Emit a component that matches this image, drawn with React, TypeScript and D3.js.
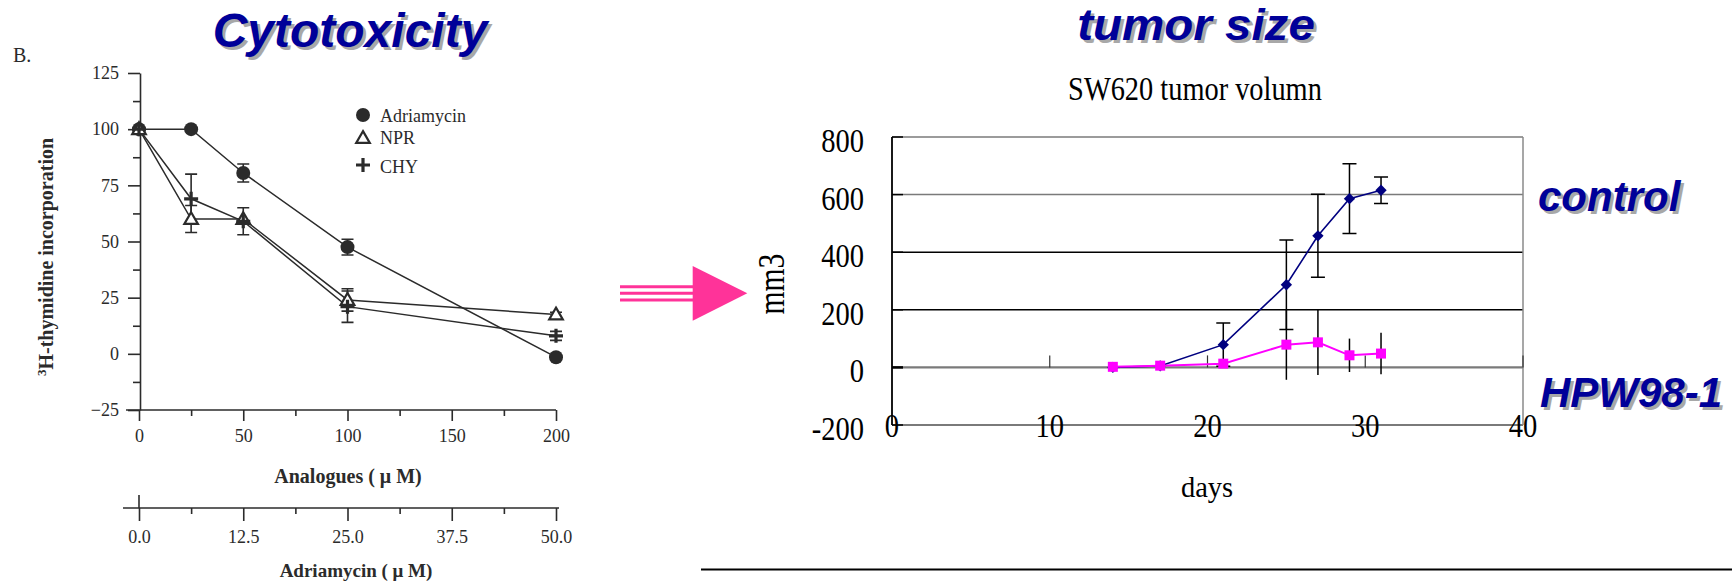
import React, { useEffect, useRef } from "react";
import * as d3 from "d3";

// left panel (scanned cytotoxicity figure)
const analogueConc = [0, 25, 50, 100, 200];
const adriamycinVals = [100, 100, 80.5, 47.5, -1.5];
const adriamycinErr = [0, 0, 4, 3.5, 1];
const nprVals = [100, 60, 60, 24, 17.5];
const nprErr = [0, 6, 0, 5, 1];
const chyVals = [100, 69, 59, 21, 8];
const chyErr = [0, 11, 6, 7, 2];
const leftYTicks = [-25, 0, 25, 50, 75, 100, 125];
const leftYMinor = [-12.5, 12.5, 37.5, 62.5, 87.5, 112.5];
const leftXTicks = [0, 50, 100, 150, 200];
const leftXMinor = [25, 75, 125, 175];
const adriaTicks = [0, 12.5, 25, 37.5, 50];
const adriaMinor = [6.25, 18.75, 31.25, 43.75];
const legendNames = ["Adriamycin", "NPR", "CHY"];

// right panel (SW620 tumor volume)
const days = [14, 17, 21, 25, 27, 29, 31];
const controlVals = [0, 5, 79, 287, 457, 586, 615];
const controlErr = [0, 0, 75, 155, 144, 121, 46];
const hpwVals = [2, 6, 13, 79, 87, 42, 48];
const hpwErr = [0, 0, 5, 122, 113, 58, 72];
const rightYTicks = [-200, 0, 200, 400, 600, 800];
const rightXTicks = [0, 10, 20, 30, 40];

const SERIF = "'Liberation Serif', 'Times New Roman', serif";
const SANS = "'Liberation Sans', Arial, sans-serif";
const NAVY = "#000099";

export default function App() {
  const svgRef = useRef(null);

  useEffect(() => {
    const svg = d3.select(svgRef.current);
    svg.selectAll("*").remove();

    // big slide titles with shadow
    const shadowText = (txt, x, y, size, anchor, sx = 1) => {
      const g = svg.append("g")
        .attr("transform", `translate(${x},${y}) scale(${sx},1)`)
        .attr("font-family", SANS)
        .attr("font-weight", "bold")
        .attr("font-style", "italic")
        .attr("font-size", size)
        .attr("text-anchor", anchor);
      g.append("text").attr("x", 3).attr("y", 3).attr("fill", "#a8a8a8").text(txt);
      g.append("text").attr("x", 0).attr("y", 0).attr("fill", NAVY).text(txt);
    };
    shadowText("Cytotoxicity", 350, 47, 48, "middle");
    shadowText("tumor size", 1196, 40, 44, "middle", 1.08);
    shadowText("control", 1538, 211, 42, "start");
    shadowText("HPW98-1", 1540, 407, 42, "start");

    // ---------------- left chart ----------------
    const ink = "#2b2b2b";
    const xL = d3.scaleLinear().domain([0, 200]).range([139, 556]);
    const yL = d3.scaleLinear().domain([-25, 125]).range([410, 73]);
    const xA = d3.scaleLinear().domain([0, 50]).range([139, 556]);
    const left = svg.append("g");

    const styleAxis = (g) => {
      g.attr("font-family", SERIF).attr("font-size", 18);
      g.selectAll("line").attr("stroke", ink).attr("stroke-width", 1.6);
      g.selectAll("path").attr("stroke", ink).attr("stroke-width", 1.6);
      g.selectAll("text").attr("fill", ink);
    };

    left.append("g").attr("transform", "translate(140,0)")
      .call(d3.axisLeft(yL).tickValues(leftYTicks).tickSize(12).tickSizeOuter(0).tickPadding(9))
      .call(styleAxis);
    left.append("g").attr("transform", "translate(140,0)")
      .call(d3.axisLeft(yL).tickValues(leftYMinor).tickSize(7).tickFormat(() => ""))
      .call((g) => g.select(".domain").remove())
      .call(styleAxis);

    left.append("line").attr("x1", 126).attr("x2", 556).attr("y1", yL(-25)).attr("y2", yL(-25))
      .attr("stroke", ink).attr("stroke-width", 1.6);
    left.append("g").attr("transform", `translate(0,${yL(-25)})`)
      .call(d3.axisBottom(xL).tickValues(leftXTicks).tickSize(11).tickSizeOuter(0).tickPadding(8))
      .call((g) => g.select(".domain").remove())
      .call(styleAxis);
    left.append("g").attr("transform", `translate(0,${yL(-25)})`)
      .call(d3.axisBottom(xL).tickValues(leftXMinor).tickSize(6).tickFormat(() => ""))
      .call((g) => g.select(".domain").remove())
      .call(styleAxis);

    // second (adriamycin) axis
    const a2y = 508;
    left.append("line").attr("x1", 123).attr("x2", 559).attr("y1", a2y).attr("y2", a2y)
      .attr("stroke", ink).attr("stroke-width", 1.6);
    left.append("line").attr("x1", xA(0)).attr("x2", xA(0)).attr("y1", a2y - 13).attr("y2", a2y)
      .attr("stroke", ink).attr("stroke-width", 1.6);
    left.append("g").attr("transform", `translate(0,${a2y})`)
      .call(d3.axisBottom(xA).tickValues(adriaTicks).tickSize(13).tickSizeOuter(0).tickPadding(9)
        .tickFormat(d3.format(".1f")))
      .call((g) => g.select(".domain").remove())
      .call(styleAxis);
    left.append("g").attr("transform", `translate(0,${a2y})`)
      .call(d3.axisBottom(xA).tickValues(adriaMinor).tickSize(6).tickFormat(() => ""))
      .call((g) => g.select(".domain").remove())
      .call(styleAxis);

    left.append("text").attr("x", 348).attr("y", 483).attr("text-anchor", "middle")
      .attr("font-family", SERIF).attr("font-weight", "bold").attr("font-size", 20).attr("fill", ink)
      .text("Analogues ( μ M)");
    left.append("text").attr("x", 356).attr("y", 577).attr("text-anchor", "middle")
      .attr("font-family", SERIF).attr("font-weight", "bold").attr("font-size", 19).attr("fill", ink)
      .text("Adriamycin ( μ M)");
    const yt = left.append("text").attr("transform", "translate(53,257) rotate(-90)")
      .attr("text-anchor", "middle").attr("font-family", SERIF).attr("font-weight", "bold")
      .attr("font-size", 20).attr("fill", ink);
    yt.append("tspan").attr("font-size", 13).attr("dy", -7).text("3");
    yt.append("tspan").attr("dy", 7).text("H-thymidine incorporation");
    left.append("text").attr("x", 13).attr("y", 62).attr("font-family", SERIF)
      .attr("font-size", 20).attr("fill", ink).text("B.");

    const series = [
      { vals: adriamycinVals, err: adriamycinErr, mark: "circle" },
      { vals: nprVals, err: nprErr, mark: "triangle" },
      { vals: chyVals, err: chyErr, mark: "plus" },
    ];
    const lineL = d3.line().x((d) => xL(d[0])).y((d) => yL(d[1]));

    const drawMark = (g, mark, cx, cy) => {
      if (mark === "circle") {
        g.append("circle").attr("cx", cx).attr("cy", cy).attr("r", 7).attr("fill", ink);
      } else if (mark === "triangle") {
        g.append("path").attr("transform", `translate(${cx},${cy + 1})`)
          .attr("d", d3.symbol(d3.symbolTriangle, 80)())
          .attr("fill", "#fff").attr("stroke", ink).attr("stroke-width", 2.2);
      } else {
        g.append("path").attr("d", `M${cx - 7},${cy}H${cx + 7}M${cx},${cy - 7}V${cy + 7}`)
          .attr("stroke", ink).attr("stroke-width", 3.2);
      }
    };

    series.forEach((s) => {
      left.append("path").datum(analogueConc.map((c, i) => [c, s.vals[i]]))
        .attr("d", lineL).attr("fill", "none").attr("stroke", ink).attr("stroke-width", 1.5);
      analogueConc.forEach((c, i) => {
        const e = s.err[i];
        if (e > 0) {
          const x = xL(c);
          left.append("path")
            .attr("d", `M${x},${yL(s.vals[i] + e)}V${yL(s.vals[i] - e)}M${x - 6},${yL(s.vals[i] + e)}H${x + 6}M${x - 6},${yL(s.vals[i] - e)}H${x + 6}`)
            .attr("stroke", ink).attr("stroke-width", 1.6).attr("fill", "none");
        }
      });
    });
    series.forEach((s) => {
      analogueConc.forEach((c, i) => drawMark(left, s.mark, xL(c), yL(s.vals[i])));
    });

    // legend
    legendNames.forEach((name, i) => {
      const ly = [115, 138, 165][i];
      drawMark(left, series[i].mark, 363, ly);
      left.append("text").attr("x", 380).attr("y", ly + [7, 6, 8][i])
        .attr("font-family", SERIF).attr("font-size", 18).attr("fill", ink).text(name);
    });

    // ---------------- arrow ----------------
    const pink = "#ff3399";
    [286.7, 293.3, 300].forEach((y) => {
      svg.append("line").attr("x1", 620).attr("x2", 694).attr("y1", y).attr("y2", y)
        .attr("stroke", pink).attr("stroke-width", 3);
    });
    svg.append("path").attr("d", "M692.7,266L747.3,293.3L692.7,320.7Z").attr("fill", pink);
    svg.append("line").attr("x1", 701).attr("x2", 1732).attr("y1", 569.5).attr("y2", 569.5)
      .attr("stroke", "#000").attr("stroke-width", 2);

    // ---------------- right chart ----------------
    const xR = d3.scaleLinear().domain([0, 40]).range([892, 1523]);
    const yR = d3.scaleLinear().domain([-200, 800]).range([425, 137]);
    const right = svg.append("g");

    const narrow = (txt, x, y, size, sx, anchor, rot = 0) => {
      right.append("text")
        .attr("transform", `translate(${x},${y}) rotate(${rot}) scale(${sx},1)`)
        .attr("text-anchor", anchor).attr("font-family", SERIF).attr("font-size", size)
        .attr("fill", "#000").text(txt);
    };

    rightYTicks.forEach((v) => {
      const dark = v === 200 || v === 400;
      right.append("line").attr("x1", xR(0)).attr("x2", xR(40)).attr("y1", yR(v)).attr("y2", yR(v))
        .attr("stroke", dark ? "#000" : "#7a7a7a")
        .attr("stroke-width", v === 0 || v === -200 ? 2.2 : 1.5);
      right.append("line").attr("x1", xR(0)).attr("x2", xR(0) + 11).attr("y1", yR(v)).attr("y2", yR(v))
        .attr("stroke", "#000").attr("stroke-width", v === 0 ? 2.5 : 1.5);
      narrow(String(v), 864, yR(v) + 15, 34, 0.84, "end");
    });
    right.append("line").attr("x1", xR(40)).attr("x2", xR(40)).attr("y1", yR(800)).attr("y2", yR(-200))
      .attr("stroke", "#8a8a8a").attr("stroke-width", 1.5);
    right.append("line").attr("x1", xR(0)).attr("x2", xR(0)).attr("y1", yR(800)).attr("y2", yR(-200))
      .attr("stroke", "#000").attr("stroke-width", 1.8);
    rightXTicks.forEach((v) => {
      if (v > 0) {
        right.append("line").attr("x1", xR(v)).attr("x2", xR(v)).attr("y1", yR(0) - 12).attr("y2", yR(0))
          .attr("stroke", "#333").attr("stroke-width", 1.2);
      }
      narrow(String(v), xR(v), yR(-200) + 12, 34, 0.84, "middle");
    });

    narrow("SW620 tumor volumn", 1195, 100, 33, 0.86, "middle");
    narrow("days", 1207, 497, 30, 0.95, "middle");
    narrow("mm3", 784, 284, 37, 0.8, "middle", -90);

    // error bars
    days.forEach((d, i) => {
      const x = xR(d);
      if (hpwErr[i] > 0) {
        right.append("line").attr("x1", x).attr("x2", x)
          .attr("y1", yR(hpwVals[i] + hpwErr[i])).attr("y2", yR(hpwVals[i] - hpwErr[i]))
          .attr("stroke", "#000").attr("stroke-width", 1.5);
      }
      if (controlErr[i] > 0) {
        const t = yR(controlVals[i] + controlErr[i]);
        const b = yR(controlVals[i] - controlErr[i]);
        right.append("path").attr("d", `M${x},${t}V${b}M${x - 7},${t}H${x + 7}M${x - 7},${b}H${x + 7}`)
          .attr("stroke", "#000").attr("stroke-width", 1.5).attr("fill", "none");
      }
    });

    const lineR = d3.line().x((d) => xR(d[0])).y((d) => yR(d[1]));
    right.append("path").datum(days.map((d, i) => [d, controlVals[i]]))
      .attr("d", lineR).attr("fill", "none").attr("stroke", "#000080").attr("stroke-width", 1.6);
    days.forEach((d, i) => {
      right.append("path").attr("transform", `translate(${xR(d)},${yR(controlVals[i])}) rotate(45)`)
        .attr("d", d3.symbol(d3.symbolSquare, 64)()).attr("fill", "#000080");
    });
    right.append("path").datum(days.map((d, i) => [d, hpwVals[i]]))
      .attr("d", lineR).attr("fill", "none").attr("stroke", "#ff00ff").attr("stroke-width", 2);
    days.forEach((d, i) => {
      right.append("path").attr("transform", `translate(${xR(d)},${yR(hpwVals[i])})`)
        .attr("d", d3.symbol(d3.symbolSquare, 100)()).attr("fill", "#ff00ff");
    });
  }, []);

  return (
    <svg
      ref={svgRef}
      width={1732}
      height={582}
      style={{ position: "absolute", left: 0, top: 0, background: "#fff" }}
    />
  );
}
